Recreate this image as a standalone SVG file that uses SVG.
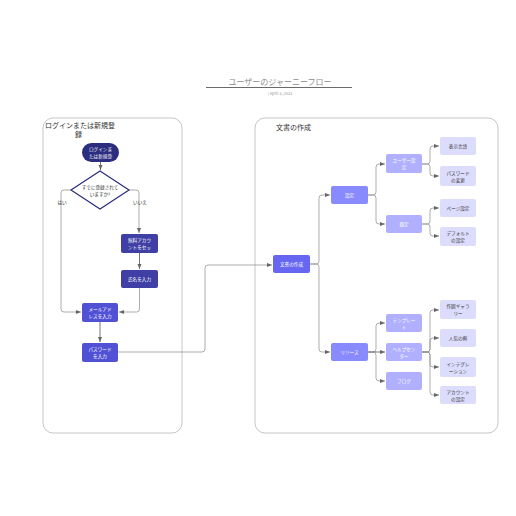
<svg xmlns="http://www.w3.org/2000/svg" width="516" height="516" viewBox="0 0 516 516">
<style>
text{font-family:"Noto Sans CJK JP","Noto Sans",sans-serif;}
.c{fill:none;stroke:#8a8a8a;stroke-width:0.7;}
.cd{fill:none;stroke:#555;stroke-width:0.8;}
.t{font-size:4.6px;fill:#fff;text-anchor:middle;}
.td{font-size:4.6px;fill:#333;text-anchor:middle;}
.cont{fill:#fff;stroke:#b8b8b8;stroke-width:0.8;}
.lab{font-size:7px;fill:#333;}
</style>
<defs>
<marker id="a" markerWidth="6" markerHeight="6" refX="5" refY="3" orient="auto" markerUnits="userSpaceOnUse"><path d="M0,1 L5,3 L0,5 Z" fill="#666"/></marker>
</defs>
<rect width="516" height="516" fill="#fff"/>
<g id="title">
<text x="280" y="85" font-size="8" fill="#8a8a8a" text-anchor="middle">ユーザーのジャーニーフロー</text>
<line x1="206" y1="87.5" x2="352" y2="87.5" stroke="#444" stroke-width="0.8"/>
<text x="280" y="95" font-size="4" fill="#999" text-anchor="middle">| April 3, 2023</text>
</g>
<g id="container-login">
<rect class="cont" x="43" y="118" width="139" height="315" rx="10"/>
<text class="lab" x="45" y="128">ログインまたは新規登</text>
<text class="lab" x="75" y="137">録</text>
</g>
<g id="container-doc">
<rect class="cont" x="255" y="118" width="243" height="315" rx="10"/>
<text class="lab" x="276" y="130">文書の作成</text>
</g>
<g id="connectors">
<path class="cd" d="M100.5,162 V170" marker-end="url(#a)"/>
<path class="c" d="M71,190 H64 Q61,190 61,193 V309 Q61,312 64,312 H81" marker-end="url(#a)"/>
<path class="c" d="M129,190 H136 Q139,190 139,193 V233" marker-end="url(#a)"/>
<path class="cd" d="M139.5,253 V269" marker-end="url(#a)"/>
<path class="c" d="M139.5,288 V309 Q139.5,312 136.5,312 H119" marker-end="url(#a)"/>
<path class="cd" d="M100,322 V342" marker-end="url(#a)"/>
<path class="c" d="M118,352 H202 Q205,352 205,349 V268 Q205,265 208,265 H272" marker-end="url(#a)"/>
<path class="c" d="M310,264 H316 Q319,264 319,261 V198 Q319,195 322,195 H330" marker-end="url(#a)"/>
<path class="c" d="M310,264 H316 Q319,264 319,267 V349 Q319,352 322,352 H330" marker-end="url(#a)"/>
<path class="c" d="M368,195 H373 Q376,195 376,192 V167 Q376,164 379,164 H385" marker-end="url(#a)"/>
<path class="c" d="M368,195 H373 Q376,195 376,198 V221 Q376,224 379,224 H385" marker-end="url(#a)"/>
<path class="c" d="M368,352 H373 Q376,352 376,349 V326 Q376,323 379,323 H385" marker-end="url(#a)"/>
<path class="cd" d="M368,352 H385" marker-end="url(#a)"/>
<path class="c" d="M368,352 H373 Q376,352 376,355 V378 Q376,381 379,381 H385" marker-end="url(#a)"/>
<path class="c" d="M422,164 H427 Q430,164 430,161 V149 Q430,146 433,146 H439" marker-end="url(#a)"/>
<path class="c" d="M422,164 H427 Q430,164 430,167 V173 Q430,176 433,176 H439" marker-end="url(#a)"/>
<path class="c" d="M422,224 H427 Q430,224 430,221 V211 Q430,208 433,208 H439" marker-end="url(#a)"/>
<path class="c" d="M422,224 H427 Q430,224 430,227 V233 Q430,236 433,236 H439" marker-end="url(#a)"/>
<path class="c" d="M422,352 H427 Q430,352 430,349 V313 Q430,310 433,310 H439" marker-end="url(#a)"/>
<path class="c" d="M422,352 H427 Q430,352 430,349 V341 Q430,338 433,338 H439" marker-end="url(#a)"/>
<path class="c" d="M422,352 H427 Q430,352 430,355 V364 Q430,367 433,367 H439" marker-end="url(#a)"/>
<path class="c" d="M422,352 H427 Q430,352 430,355 V392 Q430,395 433,395 H439" marker-end="url(#a)"/>
</g>
<g id="n-start">
<rect x="82" y="143" width="37" height="19" rx="9.5" fill="#2b2d7e"/>
<text class="t" x="100.5" y="151">ログインま</text>
<text class="t" x="100.5" y="158">たは新規登</text>
</g>
<g id="n-decision">
<polygon points="100,171 129,190 100,209 71,190" fill="#fff" stroke="#2b2d7e" stroke-width="1.2"/>
<text class="td" x="100" y="189">すでに登録されて</text>
<text class="td" x="100" y="196">いますか?</text>
</g>
<text class="td" x="62" y="204">はい</text>
<text class="td" x="140" y="204">いいえ</text>
<g id="n-free">
<rect x="121" y="234" width="37" height="19" rx="2" fill="#3f3fa5"/>
<text class="t" x="139.5" y="242">無料アカウ</text>
<text class="t" x="139.5" y="249">ントをセッ</text>
</g>
<g id="n-name">
<rect x="121" y="270" width="37" height="18" rx="2" fill="#3f3fa5"/>
<text class="t" x="139.5" y="280.5">氏名を入力</text>
</g>
<g id="n-mail">
<rect x="82" y="303" width="36" height="19" rx="2" fill="#5151d6"/>
<text class="t" x="100" y="311">メールアド</text>
<text class="t" x="100" y="318">レスを入力</text>
</g>
<g id="n-pass">
<rect x="82" y="343" width="36" height="19" rx="2" fill="#5151d6"/>
<text class="t" x="100" y="351">パスワード</text>
<text class="t" x="100" y="358">を入力</text>
</g>
<g id="n-doc">
<rect x="273" y="255" width="37" height="18" rx="2" fill="#6666f2"/>
<text class="t" x="291.5" y="265.5">文書の作成</text>
</g>
<g id="n-settings">
<rect x="331" y="186" width="37" height="18" rx="2" fill="#8a8aff"/>
<text class="t" x="349.5" y="196.5">設定</text>
</g>
<g id="n-resources">
<rect x="331" y="343" width="37" height="18" rx="2" fill="#8a8aff"/>
<text class="t" x="349.5" y="353.5">リソース</text>
</g>
<g id="n-user">
<rect x="386" y="154" width="36" height="19" rx="2" fill="#b0b0ff"/>
<text class="t" x="404" y="162">ユーザー設</text>
<text class="t" x="404" y="169">定</text>
</g>
<g id="n-default">
<rect x="386" y="215" width="36" height="18" rx="2" fill="#b0b0ff"/>
<text class="t" x="404" y="225.5">既定</text>
</g>
<g id="n-template">
<rect x="386" y="314" width="36" height="18" rx="2" fill="#b0b0ff"/>
<text class="t" x="404" y="321.5">テンプレー</text>
<text class="t" x="404" y="328.5">ト</text>
</g>
<g id="n-help">
<rect x="386" y="343" width="36" height="18" rx="2" fill="#b0b0ff"/>
<text class="t" x="404" y="350.5">ヘルプセン</text>
<text class="t" x="404" y="357.5">ター</text>
</g>
<g id="n-blog">
<rect x="386" y="372" width="36" height="18" rx="2" fill="#b0b0ff"/>
<text class="t" x="404" y="382.5">ブログ</text>
</g>
<g id="n-lang">
<rect x="440" y="137" width="36" height="18" rx="2" fill="#dcdcfc"/>
<text class="td" x="458" y="147.5">表示言語</text>
</g>
<g id="n-pw">
<rect x="440" y="166" width="36" height="20" rx="2" fill="#dcdcfc"/>
<text class="td" x="458" y="174.5">パスワード</text>
<text class="td" x="458" y="181.5">の変更</text>
</g>
<g id="n-page">
<rect x="440" y="199" width="36" height="18" rx="2" fill="#dcdcfc"/>
<text class="td" x="458" y="209.5">ページ設定</text>
</g>
<g id="n-defset">
<rect x="440" y="227" width="36" height="19" rx="2" fill="#dcdcfc"/>
<text class="td" x="458" y="235">デフォルト</text>
<text class="td" x="458" y="242">の設定</text>
</g>
<g id="n-gallery">
<rect x="440" y="300" width="36" height="19" rx="2" fill="#dcdcfc"/>
<text class="td" x="458" y="308">作図ギャラ</text>
<text class="td" x="458" y="315">リー</text>
</g>
<g id="n-popular">
<rect x="440" y="329" width="36" height="18" rx="2" fill="#dcdcfc"/>
<text class="td" x="458" y="339.5">人気の例</text>
</g>
<g id="n-integ">
<rect x="440" y="357" width="36" height="20" rx="2" fill="#dcdcfc"/>
<text class="td" x="458" y="365.5">インテグレ</text>
<text class="td" x="458" y="372.5">ーション</text>
</g>
<g id="n-account">
<rect x="440" y="386" width="36" height="18" rx="2" fill="#dcdcfc"/>
<text class="td" x="458" y="393.5">アカウント</text>
<text class="td" x="458" y="400.5">の設定</text>
</g>
</svg>
